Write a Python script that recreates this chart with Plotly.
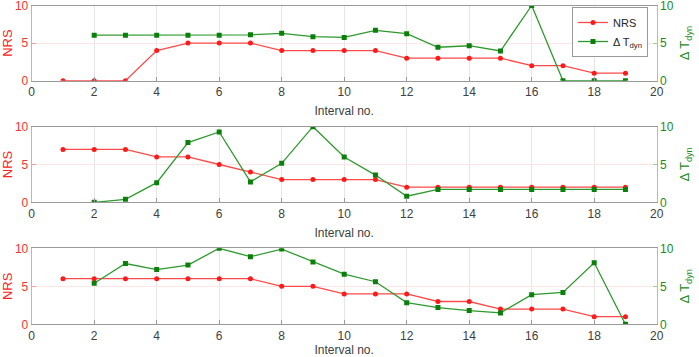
import plotly.graph_objects as go

intervals_nrs = list(range(1, 20))
intervals_dt = list(range(2, 20))

nrs_1 = [0, 0, 0, 4, 5, 5, 5, 4, 4, 4, 4, 3, 3, 3, 3, 2, 2, 1, 1]
dt_1 = [6.05, 6.05, 6.05, 6.05, 6.05, 6.1, 6.3, 5.85, 5.75, 6.7, 6.25, 4.45, 4.65, 3.95, 10, 0, 0, 0]

nrs_2 = [7, 7, 7, 6, 6, 5, 4, 3, 3, 3, 3, 2, 2, 2, 2, 2, 2, 2, 2]
dt_2 = [0, 0.4, 2.6, 7.9, 9.3, 2.7, 5.15, 10, 6.0, 3.6, 0.8, 1.7, 1.7, 1.7, 1.7, 1.7, 1.7, 1.7]

nrs_3 = [6, 6, 6, 6, 6, 6, 6, 5, 5, 4, 4, 4, 3, 3, 2, 2, 2, 1, 1]
dt_3 = [5.4, 8.0, 7.2, 7.8, 10, 8.9, 9.9, 8.2, 6.6, 5.6, 2.85, 2.2, 1.8, 1.5, 3.9, 4.2, 8.1, 0]

x_ticks = list(range(0, 21, 2))
y_ticks = [0, 5, 10]

W, H = 699, 357
x_dom = [31.7 / W, 656.7 / W]
panels_px = [(5.5, 80.7), (126.7, 202.3), (248.3, 324.3)]

RED_LINE = "#ff4a4a"
RED_MARK = "#ff1a1a"
GREEN_LINE = "#2e9a2e"
GREEN_MARK = "#0a800a"
FONT = "Liberation Sans, Arial, sans-serif"

fig = go.Figure()
layout = dict(
    width=W, height=H,
    margin=dict(l=0, r=0, t=0, b=0),
    paper_bgcolor="white", plot_bgcolor="white",
    font=dict(family=FONT, size=12, color="#404040"),
    showlegend=True,
    legend=dict(x=648 / W, y=1 - 7 / H, xanchor="right", yanchor="top",
                bgcolor="white", bordercolor="#9a9a9a", borderwidth=1,
                font=dict(size=11, color="#262626"),
                tracegroupgap=0, itemwidth=30),
)

data = [(nrs_1, dt_1), (nrs_2, dt_2), (nrs_3, dt_3)]
for i, ((top, bot), (nrs, dt)) in enumerate(zip(panels_px, data)):
    k = i + 1
    xa = "x" if k == 1 else f"x{k}"
    ya_l = f"y{2*k-1}" if k > 1 else "y"
    ya_r = f"y{2*k}"
    fig.add_trace(go.Scatter(
        x=intervals_nrs, y=nrs, mode="lines+markers", name="NRS",
        line=dict(color=RED_LINE, width=1.3),
        marker=dict(color=RED_MARK, size=5, symbol="circle"),
        xaxis=xa, yaxis=ya_l, showlegend=(k == 1)))
    fig.add_trace(go.Scatter(
        x=intervals_dt, y=dt, mode="lines+markers", name="Δ T<sub>dyn</sub>",
        line=dict(color=GREEN_LINE, width=1.3),
        marker=dict(color=GREEN_MARK, size=5, symbol="square"),
        xaxis=xa, yaxis=ya_r, showlegend=(k == 1)))

    ydom = [1 - bot / H, 1 - top / H]
    xkey = "xaxis" if k == 1 else f"xaxis{k}"
    ylkey = "yaxis" if k == 1 else f"yaxis{2*k-1}"
    yrkey = f"yaxis{2*k}"
    layout[xkey] = dict(
        domain=x_dom, anchor=ya_l, range=[0, 20], tickvals=x_ticks,
        ticks="inside", ticklen=4, tickcolor="#9a9a9a",
        showline=True, linecolor="#9a9a9a", linewidth=1, mirror=True,
        showgrid=True, gridcolor="#e6e6e6", zeroline=False,
        tickfont=dict(size=12, color="#404040"),
        title=dict(text="Interval no.", font=dict(size=12, color="#404040"), standoff=8),
        automargin=False,
    )
    layout[ylkey] = dict(
        domain=ydom, anchor=xa, range=[0, 10], tickvals=y_ticks,
        ticks="inside", ticklen=4, tickcolor="#ff9a9a",
        showline=True, linecolor="#ff9a9a", linewidth=1,
        showgrid=True, gridcolor="#ffe6e6", zeroline=False,
        tickfont=dict(size=12, color="#ff3030"),
        ticklabeloverflow="allow",
        title=dict(text="NRS", font=dict(size=13, color="#ff2020"), standoff=4),
        automargin=False,
    )
    layout[yrkey] = dict(
        domain=ydom, anchor=xa, overlaying=ya_l, side="right",
        range=[0, 10], tickvals=y_ticks,
        ticks="inside", ticklen=4, tickcolor="#9ad09a",
        showline=True, linecolor="#9ad09a", linewidth=1,
        showgrid=False, zeroline=False,
        tickfont=dict(size=12, color="#1a8a1a"),
        ticklabeloverflow="allow",
        title=dict(text="Δ T<sub>dyn</sub>", font=dict(size=13, color="#1a8a1a"), standoff=7),
        automargin=False,
    )

fig.update_layout(**layout)
fig.write_html("out.html")
